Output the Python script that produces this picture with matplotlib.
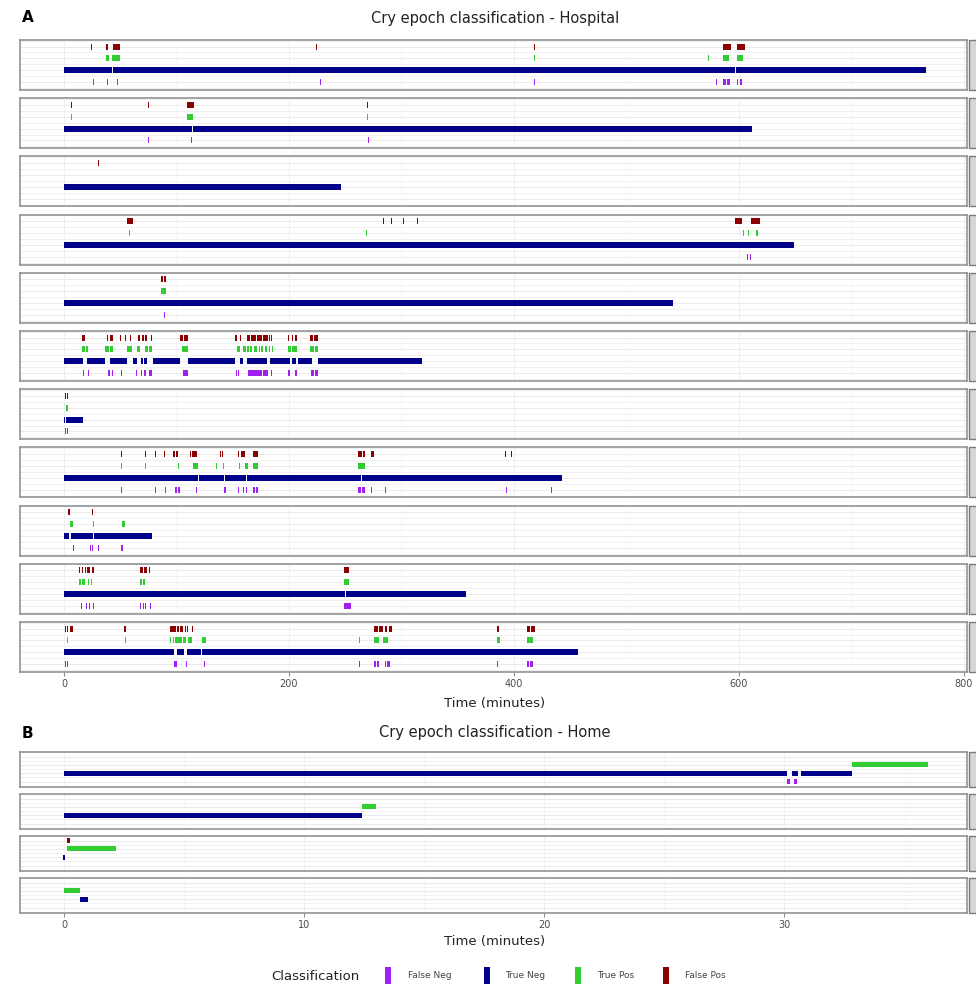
import matplotlib

matplotlib.use("Agg")
import matplotlib.pyplot as plt
from matplotlib.patches import Rectangle

plt.rcParams["font.family"] = "DejaVu Sans"

# ── data: (start, end) in minutes, one list per recording ──────────
CLASSES = ["False Neg", "True Neg", "True Pos", "False Pos"]
ROW = {"False Neg": 1, "True Neg": 2, "True Pos": 3, "False Pos": 4}
COLORS = {"False Neg": "#A020F0", "True Neg": "#00008B",
          "True Pos": "#32CD32", "False Pos": "#8B0000"}

HOSP_FP = [
    [(24.3, 25.0), (37.3, 39.4), (43.6, 49.8), (224.3, 225.0), (417.6, 418.3),
     (585.8, 592.9), (598.0, 605.0)],
    [(6.5, 7.3), (74.7, 75.5), (109.0, 115.3), (269.6, 270.4)],
    [(30.2, 31.0)],
    [(56.0, 61.6), (283.5, 284.3), (291.0, 291.8), (301.3, 302.1), (314.1, 314.9),
     (596.4, 602.4), (611.0, 618.7)],
    [(86.0, 87.6), (89.2, 91.0)],
    [(15.7, 18.7), (38.0, 39.0), (41.0, 43.8), (49.5, 50.3), (54.0, 54.8), (58.5, 59.3),
     (66.0, 68.0), (69.0, 71.0), (72.0, 73.5), (77.7, 78.5), (103.0, 106.0),
     (107.0, 110.5), (152.0, 153.5), (154.3, 155.0), (156.2, 157.0), (162.4, 165.5),
     (166.5, 170.5), (171.5, 176.0), (177.0, 181.5), (182.5, 183.3), (184.4, 185.2),
     (199.2, 200.0), (202.4, 203.8), (205.0, 206.8), (218.7, 221.5), (222.5, 226.0)],
    [(0.8, 1.6), (2.8, 3.8)],
    [(51.0, 51.8), (71.7, 72.5), (80.6, 81.4), (88.6, 89.4), (97.2, 99.0), (100.0, 101.6),
     (112.0, 113.0), (114.0, 118.0), (138.5, 139.3), (140.5, 141.6), (155.0, 156.0),
     (157.5, 161.0), (168.0, 172.7), (261.6, 265.0), (265.8, 267.6), (273.3, 275.6),
     (392.0, 392.8), (397.6, 398.4)],
    [(3.8, 5.3), (25.2, 26.0)],
    [(13.6, 14.6), (15.8, 16.8), (18.3, 19.5), (20.5, 23.1), (24.7, 25.5), (26.2, 26.9),
     (67.6, 70.5), (71.2, 73.8), (75.3, 76.1), (248.5, 253.3)],
    [(0.9, 2.0), (2.8, 3.5), (5.7, 6.8), (7.2, 7.9), (53.3, 54.8), (94.6, 96.5),
     (97.3, 99.3), (100.9, 102.5), (103.3, 105.7), (107.2, 108.5), (109.5, 110.4),
     (113.6, 114.4), (275.5, 279.0), (279.8, 283.5), (285.0, 287.0), (288.5, 291.4),
     (385.0, 387.0), (412.0, 414.0), (415.5, 418.3)],
]

HOSP_TP = [
    [(37.0, 40.0), (43.0, 49.5), (227.3, 228.0), (417.6, 418.3), (572.8, 573.4),
     (586.0, 591.0), (598.0, 604.0)],
    [(6.5, 7.3), (109.0, 115.0), (269.6, 270.6)],
    [(155.2, 156.0)],
    [(57.6, 58.6), (268.8, 269.6), (603.6, 604.6), (607.6, 608.6), (615.0, 616.5)],
    [(86.0, 91.0)],
    [(15.7, 18.5), (19.5, 21.6), (36.4, 40.0), (40.8, 43.8), (55.7, 60.2), (64.6, 67.6),
     (72.0, 75.0), (75.8, 78.0), (104.6, 110.5), (153.5, 156.4), (159.0, 161.5),
     (162.4, 164.5), (165.5, 167.5), (168.5, 172.0), (173.0, 174.5), (175.5, 177.0),
     (178.5, 180.5), (182.0, 183.0), (184.5, 186.0), (199.0, 202.0), (203.0, 207.0),
     (218.7, 222.0), (223.0, 226.0)],
    [(1.8, 3.8)],
    [(51.0, 51.8), (71.7, 72.5), (101.2, 102.0), (114.8, 119.4), (129.4, 130.2),
     (135.3, 136.1), (141.2, 142.0), (156.0, 156.8), (161.0, 164.0), (168.0, 172.7),
     (261.6, 267.6), (391.6, 392.4)],
    [(5.3, 8.3), (25.6, 26.4), (51.3, 54.2)],
    [(13.6, 15.5), (16.3, 18.3), (21.1, 21.9), (24.3, 25.1), (67.6, 69.5), (70.3, 72.4),
     (248.5, 253.3)],
    [(2.5, 3.3), (54.4, 55.2), (94.6, 95.4), (96.5, 97.5), (98.7, 104.5), (105.5, 108.8),
     (110.4, 113.6), (123.0, 126.2), (262.3, 263.1), (275.5, 280.3), (283.5, 288.0),
     (385.0, 387.5), (412.0, 417.0)],
]

HOSP_TN = [
    [(0, 43.0), (44.0, 596.5), (597.5, 766.0)],
    [(0, 113.5), (114.5, 612.0)],
    [(0, 246.0)],
    [(0, 649.0)],
    [(0, 541.0)],
    [(0, 17.2), (20.1, 36.4), (40.9, 56.3), (61.0, 64.6), (68.1, 69.9), (71.4, 74.1),
     (78.8, 103.1), (110.5, 152.0), (156.4, 159.4), (163.0, 180.1), (183.1, 200.9),
     (202.4, 206.2), (208.3, 220.1), (226.0, 318.2)],
    [(0, 0.8), (1.5, 17.2)],
    [(0, 119.0), (120.0, 142.5), (143.5, 162.0), (163.0, 264.0), (265.2, 442.7)],
    [(0, 4.3), (6.0, 25.5), (26.6, 78.0)],
    [(0, 16.5), (17.2, 71.6), (72.4, 249.6), (250.4, 357.0)],
    [(0, 97.5), (100.5, 106.5), (109.5, 121.5), (123.0, 275.3), (276.0, 283.2),
     (284.0, 457.0)],
]

HOSP_FN = [
    [(25.6, 26.3), (38.4, 39.4), (46.8, 48.3), (228.0, 228.7), (417.6, 418.3),
     (579.5, 580.8), (585.5, 588.5), (589.5, 592.0), (598.0, 599.5), (601.0, 602.5)],
    [(74.7, 75.4), (112.6, 113.4), (270.6, 271.4)],
    [(155.2, 156.0)],
    [(606.8, 607.6), (609.4, 610.8)],
    [(88.6, 89.4)],
    [(17.0, 17.8), (21.5, 22.5), (39.0, 40.5), (42.5, 43.8), (50.6, 51.4), (58.3, 59.1),
     (64.2, 65.0), (68.2, 69.5), (71.5, 73.0), (76.0, 78.0), (106.0, 110.0),
     (153.0, 154.0), (155.0, 156.0), (163.6, 176.0), (176.8, 181.0), (183.8, 184.6),
     (199.0, 201.0), (205.0, 207.0), (220.0, 222.0), (222.8, 226.0)],
    [(0.8, 1.6), (2.8, 3.8)],
    [(50.8, 51.6), (71.6, 72.4), (80.6, 81.6), (89.4, 90.4), (98.7, 100.5), (101.5, 103.0),
     (117.6, 118.6), (129.4, 130.2), (142.6, 143.6), (154.6, 155.6), (159.4, 160.4),
     (161.6, 162.4), (168.0, 170.0), (171.0, 172.7), (261.6, 264.0), (265.0, 267.6),
     (273.2, 274.2), (285.0, 285.8), (393.2, 394.0), (433.2, 434.0)],
    [(8.0, 9.0), (22.8, 23.8), (24.8, 26.0), (30.2, 31.0), (51.0, 52.8)],
    [(15.0, 15.8), (16.5, 17.3), (20.0, 20.8), (22.0, 22.8), (25.5, 26.3), (67.6, 68.6),
     (70.0, 70.8), (72.0, 73.0), (76.2, 77.0), (248.5, 255.0), (271.6, 272.4)],
    [(0.9, 1.8), (2.6, 3.5), (97.7, 100.9), (103.6, 104.4), (108.4, 109.2), (111.6, 112.4),
     (124.3, 125.5), (262.3, 263.1), (275.5, 277.0), (278.5, 280.0), (285.0, 286.0),
     (287.0, 290.0), (385.0, 385.8), (412.0, 413.5), (414.5, 417.0)],
]

HOME_FP = [[], [], [(0.13, 0.24)], []]
HOME_TP = [[(32.8, 35.97)], [(12.4, 13.0)], [(0.13, 2.18)], [(0.0, 0.65)]]
HOME_TN = [[(0, 30.1), (30.3, 30.55), (30.7, 32.8)], [(0, 12.4)], [(-0.05, 0.05)],
           [(0.65, 1.0)]]
HOME_FN = [[(30.1, 30.22), (30.4, 30.52)], [], [], []]

HOSP_TICKS = [0, 200, 400, 600, 800]
HOME_TICKS = [0, 10, 20, 30]

# ── layout (pixels of a 976 x 985 canvas) ─────────────────────────
W, H = 976, 985
BORDER = "#8c8c8c"
GRID = "#e6e6e6"


def make_axes(fig, top, height):
    return fig.add_axes([20 / W, 1 - (top + height) / H, 947 / W, height / H])


def draw_panel(ax, series, xlim, xticks, bar_h, bottom):
    ax.set_xlim(*xlim)
    ax.set_ylim(0.35, 4.55)
    ax.set_facecolor("white")
    for y in [0.5, 1, 1.5, 2, 2.5, 3, 3.5, 4, 4.5]:
        ax.axhline(y, color=GRID, lw=0.6 if y % 1 == 0 else 0.4, zorder=0)
    step = xticks[1] - xticks[0]
    for x in xticks:
        ax.axvline(x, color="#ececec", lw=0.6, zorder=0)
        ax.axvline(x + step / 2, color="#f3f3f3", lw=0.4, zorder=0)
    for cls, segs in series.items():
        if segs:
            ax.broken_barh([(s, e - s) for s, e in segs],
                           (ROW[cls] - bar_h / 2, bar_h),
                           facecolors=COLORS[cls], edgecolor="none", zorder=2)
    for sp in ax.spines.values():
        sp.set_color(BORDER)
        sp.set_linewidth(1.1)
    ax.set_yticks([])
    ax.set_xticks(xticks)
    if bottom:
        ax.tick_params(axis="x", length=3, color=BORDER, labelsize=7,
                       labelcolor="#4d4d4d", pad=2)
    else:
        ax.tick_params(axis="x", length=0, labelbottom=False)
    # facet strip on the right, cut by the canvas edge
    pos = ax.get_position()
    ax.figure.add_artist(Rectangle((968.5 / W, pos.y0), 30 / W, pos.height,
                                   transform=ax.figure.transFigure,
                                   facecolor="#d6d6d6", edgecolor="#7a7a7a",
                                   lw=1.0))


def main():
    fig = plt.figure(figsize=(W / 100, H / 100), dpi=100)

    # ── A: hospital ──
    fig.text(22 / W, 1 - 18 / H, "A", fontsize=11, fontweight="bold",
             va="center", ha="left")
    fig.text(495 / W, 1 - 18 / H, "Cry epoch classification - Hospital",
             fontsize=10.5, va="center", ha="center", color="#222222")
    n = len(HOSP_TN)
    for i in range(n):
        ax = make_axes(fig, 40 + i * 58.2, 50)
        series = {"False Neg": HOSP_FN[i], "True Neg": HOSP_TN[i],
                  "True Pos": HOSP_TP[i], "False Pos": HOSP_FP[i]}
        draw_panel(ax, series, (-39.1, 802.7), HOSP_TICKS, 0.5, i == n - 1)
    fig.text(495 / W, 1 - 703 / H, "Time (minutes)", fontsize=9.5,
             va="center", ha="center", color="#222222")

    # ── B: home ──
    fig.text(22 / W, 1 - 733 / H, "B", fontsize=11, fontweight="bold",
             va="center", ha="left")
    fig.text(495 / W, 1 - 733 / H, "Cry epoch classification - Home",
             fontsize=10.5, va="center", ha="center", color="#222222")
    n = len(HOME_TN)
    for i in range(n):
        ax = make_axes(fig, 752 + i * 42, 35)
        series = {"False Neg": HOME_FN[i], "True Neg": HOME_TN[i],
                  "True Pos": HOME_TP[i], "False Pos": HOME_FP[i]}
        draw_panel(ax, series, (-1.833, 37.6), HOME_TICKS, 0.6, i == n - 1)
    fig.text(495 / W, 1 - 942 / H, "Time (minutes)", fontsize=9.5,
             va="center", ha="center", color="#222222")

    # ── legend ──
    fig.text(271 / W, 1 - 976 / H, "Classification", fontsize=9.5,
             va="center", ha="left", color="#222222")
    key_x = [385, 484, 575, 663]
    lab_x = [408, 505, 597, 685]
    for cls, kx, lx in zip(CLASSES, key_x, lab_x):
        fig.add_artist(Rectangle((kx / W, 1 - 984 / H), 6 / W, 17 / H,
                                 transform=fig.transFigure,
                                 facecolor=COLORS[cls], edgecolor="none"))
        fig.text(lx / W, 1 - 976 / H, cls, fontsize=6.5, va="center",
                 ha="left", color="#444444")

    fig.savefig("out.png", dpi=100)
    plt.close(fig)


if __name__ == "__main__":
    main()
